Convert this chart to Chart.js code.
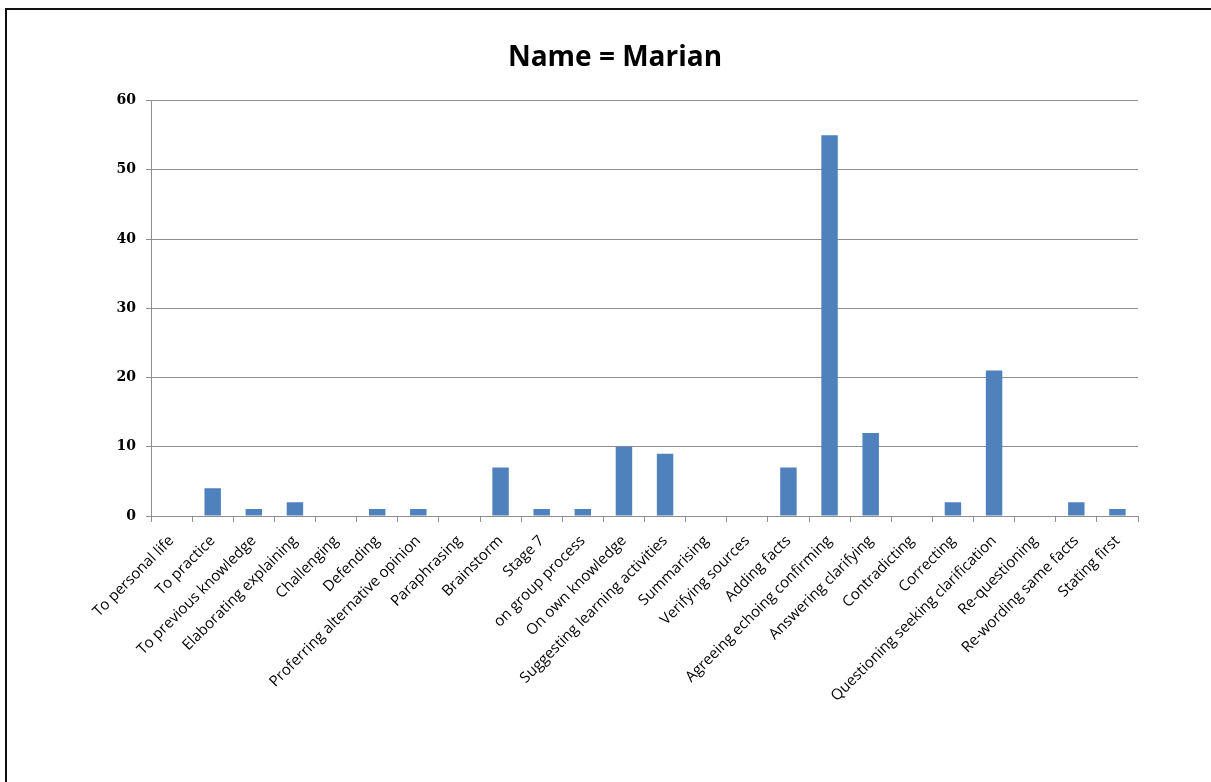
<!DOCTYPE html>
<html>
<head>
<meta charset="utf-8">
<script src="https://cdn.jsdelivr.net/npm/chart.js@4/dist/chart.umd.min.js"></script>
<style>
  html, body { margin: 0; padding: 0; background: #fff; }
  #wrap { position: relative; width: 1211px; height: 782px; overflow: hidden; }
  #frame { position: absolute; left: 5px; top: 8px; width: 1230px; height: 800px; border: 2px solid #111; box-sizing: border-box; }
  #chartMarian { position: absolute; left: 0; top: 0; }
</style>
</head>
<body>
<div id="wrap">
  <div id="frame"></div>
  <canvas id="chartMarian" width="1211" height="782"></canvas>
</div>
<script>
// ===== DATA =====
const categories = [
  'To personal life', 'To practice', 'To previous knowledge', 'Elaborating explaining',
  'Challenging', 'Defending', 'Proferring alternative opinion', 'Paraphrasing',
  'Brainstorm', 'Stage 7', 'on group process', 'On own knowledge',
  'Suggesting learning activities', 'Summarising', 'Verifying sources', 'Adding facts',
  'Agreeing echoing confirming', 'Answering clarifying', 'Contradicting', 'Correcting',
  'Questioning seeking clarification', 'Re-questioning', 'Re-wording same facts', 'Stating first'
];
const counts = [0, 4, 1, 2, 0, 1, 1, 0, 7, 1, 1, 10, 9, 0, 0, 7, 55, 12, 0, 2, 21, 0, 2, 1];
const yTicks = [0, 10, 20, 30, 40, 50, 60];

const GRID = '#8e8e8e';

new Chart(document.getElementById('chartMarian'), {
  type: 'bar',
  data: {
    labels: categories,
    datasets: [{ data: counts, backgroundColor: '#4f81bd', borderWidth: 0, barPercentage: 0.4, categoryPercentage: 1 }]
  },
  options: {
    responsive: false,
    animation: false,
    layout: { padding: { left: 92, right: 73, top: 0, bottom: 0 } },
    plugins: {
      legend: { display: false },
      tooltip: { enabled: false },
      title: {
        display: true,
        text: 'Name = Marian',
        color: '#000',
        font: { family: 'Open Sans', size: 28, weight: 'bold' },
        padding: { top: 41, bottom: 26 }
      }
    },
    scales: {
      x: {
        offset: true,
        grid: { offset: true, drawOnChartArea: false, drawTicks: true, tickLength: 6, color: GRID },
        border: { color: GRID, width: 1 },
        ticks: {
          minRotation: 45, maxRotation: 45, autoSkip: false, padding: 10,
          color: '#000', font: { family: 'Open Sans', size: 15 }
        },
        afterFit: s => { s.height = 266; }
      },
      y: {
        min: 0, max: 60,
        afterBuildTicks: s => { s.ticks = yTicks.map(v => ({ value: v })); },
        grid: { color: GRID, tickLength: 5 },
        border: { color: GRID, width: 1 },
        ticks: { color: '#000', padding: 10, font: { family: 'DejaVu Serif', size: 14, weight: 'bold' } },
        afterFit: s => { s.width = 59; }
      }
    }
  }
});
</script>
</body>
</html>
